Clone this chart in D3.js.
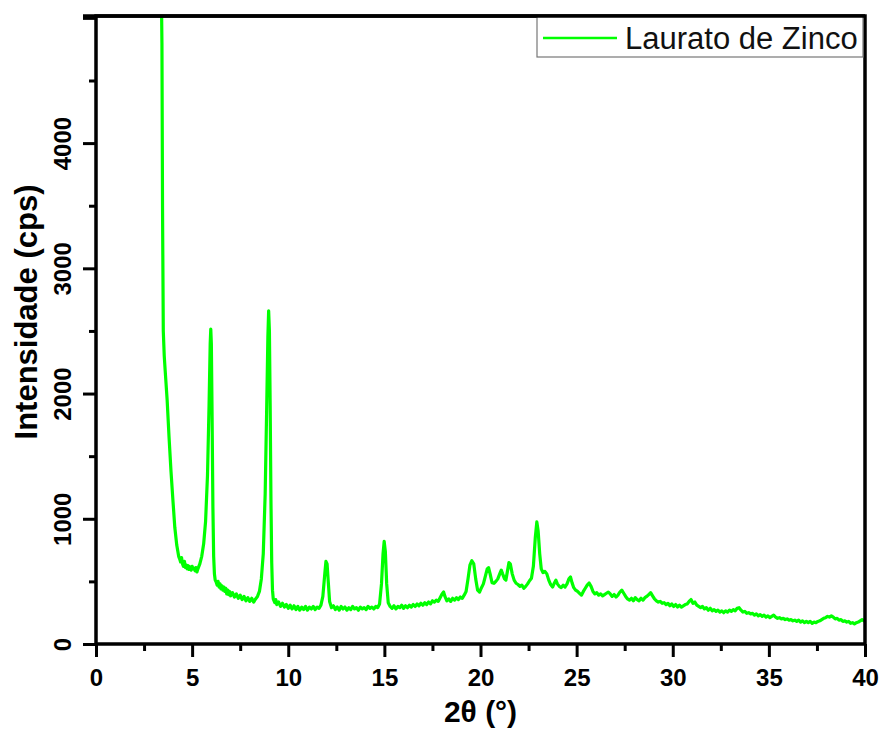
<!DOCTYPE html>
<html>
<head>
<meta charset="utf-8">
<script src="https://cdn.jsdelivr.net/npm/d3@7"></script>
<style>
  body { margin: 0; background: #fff; }
  svg { display: block; font-family: "Liberation Sans", Arial, sans-serif; }
  .tick-label { font-size: 24px; font-weight: bold; fill: #000; }
  .axis-title { font-size: 30px; font-weight: bold; fill: #000; }
  .legend-text { font-size: 31px; fill: #111; }
</style>
</head>
<body>
<svg id="chart"></svg>
<script>
// 2theta positions (deg)
const twoTheta = [
  3.40, 3.43, 3.46, 3.50, 3.55, 3.6, 3.7, 3.8, 3.9, 4.0,
  4.1, 4.2, 4.3, 4.35, 4.4, 4.45, 4.5, 4.55, 4.6, 4.65,
  4.7, 4.75, 4.8, 4.85, 4.9, 4.95, 5.0, 5.05, 5.1, 5.15,
  5.2, 5.25, 5.3, 5.35, 5.4, 5.5, 5.6, 5.7, 5.8, 5.88,
  5.94, 5.97, 6.0, 6.04, 6.08, 6.12, 6.16, 6.2, 6.25, 6.3,
  6.35, 6.4, 6.45, 6.5, 6.55, 6.6, 6.65, 6.7, 6.75, 6.8,
  6.85, 6.9, 6.95, 7.0, 7.1, 7.2, 7.3, 7.4, 7.5, 7.6,
  7.7, 7.8, 7.9, 8.0, 8.1, 8.2, 8.3, 8.4, 8.5, 8.6,
  8.7, 8.8, 8.88, 8.94, 8.98, 9.02, 9.06, 9.1, 9.14, 9.18,
  9.22, 9.3, 9.35, 9.4, 9.5, 9.6, 9.7, 9.8, 9.9, 10.0,
  10.1, 10.2, 10.3, 10.4, 10.5, 10.6, 10.7, 10.8, 10.9, 11.0,
  11.1, 11.2, 11.3, 11.4, 11.5, 11.6, 11.7, 11.8, 11.9, 11.96,
  12.02, 12.08, 12.15, 12.25, 12.35, 12.45, 12.55, 12.65, 12.75, 12.85,
  12.95, 13.05, 13.15, 13.25, 13.35, 13.45, 13.55, 13.65, 13.75, 13.85,
  13.95, 14.05, 14.15, 14.25, 14.35, 14.45, 14.55, 14.65, 14.75, 14.85,
  14.93, 14.99, 15.05, 15.12, 15.2, 15.3, 15.4, 15.5, 15.6, 15.7,
  15.8, 15.9, 16.0, 16.1, 16.2, 16.3, 16.4, 16.5, 16.6, 16.7,
  16.8, 16.9, 17.0, 17.1, 17.2, 17.3, 17.4, 17.5, 17.6, 17.7,
  17.8, 17.9, 18.0, 18.08, 18.15, 18.25, 18.35, 18.45, 18.55, 18.65,
  18.75, 18.85, 18.95, 19.05, 19.15, 19.25, 19.35, 19.45, 19.55, 19.65,
  19.75, 19.85, 19.95, 20.05, 20.15, 20.25, 20.35, 20.42, 20.5, 20.6,
  20.7, 20.8, 20.9, 21.0, 21.08, 21.15, 21.25, 21.32, 21.4, 21.48,
  21.55, 21.65, 21.75, 21.85, 21.95, 22.05, 22.15, 22.25, 22.35, 22.45,
  22.55, 22.65, 22.75, 22.85, 22.93, 23.0, 23.08, 23.16, 23.25, 23.35,
  23.45, 23.55, 23.65, 23.75, 23.85, 23.92, 24.0, 24.1, 24.2, 24.3,
  24.4, 24.5, 24.6, 24.68, 24.76, 24.85, 24.95, 25.05, 25.15, 25.25,
  25.35, 25.45, 25.55, 25.65, 25.75, 25.85, 25.95, 26.05, 26.15, 26.25,
  26.35, 26.45, 26.55, 26.65, 26.75, 26.85, 26.95, 27.05, 27.15, 27.25,
  27.35, 27.45, 27.55, 27.65, 27.75, 27.85, 27.95, 28.05, 28.15, 28.25,
  28.35, 28.45, 28.55, 28.65, 28.75, 28.85, 28.95, 29.05, 29.15, 29.25,
  29.35, 29.45, 29.55, 29.65, 29.75, 29.85, 29.95, 30.05, 30.15, 30.25,
  30.35, 30.45, 30.55, 30.65, 30.75, 30.85, 30.95, 31.05, 31.15, 31.25,
  31.35, 31.45, 31.55, 31.65, 31.75, 31.85, 31.95, 32.05, 32.15, 32.25,
  32.35, 32.45, 32.55, 32.65, 32.75, 32.85, 32.95, 33.05, 33.15, 33.25,
  33.35, 33.45, 33.55, 33.65, 33.75, 33.85, 33.95, 34.05, 34.15, 34.25,
  34.35, 34.45, 34.55, 34.65, 34.75, 34.85, 34.95, 35.05, 35.15, 35.25,
  35.35, 35.45, 35.55, 35.65, 35.75, 35.85, 35.95, 36.05, 36.15, 36.25,
  36.35, 36.45, 36.55, 36.65, 36.75, 36.85, 36.95, 37.05, 37.15, 37.25,
  37.35, 37.45, 37.55, 37.65, 37.75, 37.85, 37.95, 38.05, 38.15, 38.25,
  38.35, 38.45, 38.55, 38.65, 38.75, 38.85, 38.95, 39.05, 39.15, 39.25,
  39.35, 39.45, 39.55, 39.65, 39.75, 39.85, 39.95, 40.0
];

// intensity (cps), same order as twoTheta
const intensity = [
  5200, 4800, 3500, 2500, 2300, 2180, 1950, 1650, 1380, 1150,
  930, 790, 700, 680, 655, 690, 640, 620, 660, 610,
  630, 600, 625, 595, 615, 590, 620, 600, 605, 585,
  610, 575, 600, 620, 640, 700, 800, 980, 1350, 1900,
  2400, 2515, 2400, 1800, 1100, 700, 560, 510, 495, 470,
  500, 455, 480, 440, 465, 430, 455, 420, 445, 400,
  430, 395, 420, 385, 410, 375, 400, 365, 390, 355,
  380, 345, 370, 340, 365, 335, 360, 380, 420, 520,
  720, 1200, 1900, 2450, 2660, 2500, 1900, 1150, 650, 430,
  360, 330, 355, 315, 335, 300, 325, 295, 315, 285,
  310, 280, 305, 275, 300, 270, 295, 275, 300, 270,
  295, 280, 300, 275, 295, 285, 310, 380, 560, 660,
  640, 500, 340, 290, 305, 275, 295, 270, 300, 280,
  295, 270, 290, 275, 300, 280, 290, 270, 295, 280,
  290, 275, 300, 285, 295, 280, 300, 290, 320, 480,
  720, 820, 740, 480, 330, 300, 285, 305, 280, 300,
  290, 310, 285, 305, 290, 310, 295, 315, 300, 320,
  305, 325, 310, 330, 315, 335, 320, 345, 335, 350,
  340, 370, 400, 415, 380, 345, 360, 340, 365, 350,
  370, 355, 375, 365, 390, 420, 520, 630, 665, 640,
  520, 430, 415, 450, 480, 540, 600, 610, 560, 490,
  485, 500, 520, 560, 590, 560, 520, 510, 580, 650,
  640, 560, 510, 485, 475, 460, 470, 445, 460, 480,
  505, 525, 620, 850, 975, 900, 720, 600, 570, 580,
  560, 510, 475, 455, 490, 510, 480, 460, 450, 470,
  455, 480, 520, 535, 490, 450, 430, 420, 405, 390,
  420, 445, 470, 487, 460, 420, 400, 410, 390, 400,
  385, 395, 405, 415, 400, 380, 395, 375, 390, 415,
  430, 405, 380, 360, 350, 365, 345, 370, 355, 345,
  365, 350, 370, 380, 395, 410, 385, 360, 345, 335,
  340, 325, 330, 315, 325, 305, 320, 300, 315, 295,
  310, 295, 305, 315, 320, 340, 355, 325, 335, 310,
  300, 290, 300, 280, 290, 270, 285, 265, 275, 260,
  270, 255, 265, 250, 265, 255, 270, 260, 275, 265,
  285, 290, 270, 255, 260, 245, 250, 240, 245, 230,
  240, 225, 235, 220, 230, 215, 225, 210, 220, 230,
  215, 205, 210, 200, 205, 195, 200, 190, 195, 185,
  190, 180, 190, 175, 185, 170, 180, 170, 180, 165,
  175, 170, 180, 185, 195, 205, 210, 220, 215, 225,
  215, 200, 205, 190, 195, 180, 185, 175, 180, 165,
  170, 160, 170, 175, 185, 195, 185, 190
];

const xMajorTicks = [0, 5, 10, 15, 20, 25, 30, 35, 40];
const xMinorTicks = [2.5, 7.5, 12.5, 17.5, 22.5, 27.5, 32.5, 37.5];
const yMajorTicks = [0, 1000, 2000, 3000, 4000, 5000];
const yMinorTicks = [500, 1500, 2500, 3500, 4500];
const yLabelled = [0, 1000, 2000, 3000, 4000];
const seriesName = 'Laurato de Zinco';

class XrdChart {

  constructor(_config, _data) {
    this.config = {
      parentElement: _config.parentElement,
      containerWidth: _config.containerWidth || 884,
      containerHeight: _config.containerHeight || 731,
      margin: {top: 16, bottom: 87, left: 96, right: 19},
      lineColor: '#00ff00'
    };
    this.data = _data;
    this.initVis();
  }

  initVis() {
    let vis = this;

    vis.width = vis.config.containerWidth - vis.config.margin.left - vis.config.margin.right;
    vis.height = vis.config.containerHeight - vis.config.margin.top - vis.config.margin.bottom;

    vis.svg = d3.select(vis.config.parentElement)
      .attr('width', vis.config.containerWidth)
      .attr('height', vis.config.containerHeight);

    vis.chart = vis.svg.append('g')
      .attr('transform', `translate(${vis.config.margin.left}, ${vis.config.margin.top})`);

    // scales
    vis.xScale = d3.scaleLinear().domain([0, 40]).range([0, vis.width]);
    vis.yScale = d3.scaleLinear().domain([0, 5015]).range([vis.height, 0]);

    // clip so the steep start is cut at the frame
    vis.svg.append('defs').append('clipPath')
      .attr('id', 'plot-clip')
      .append('rect')
      .attr('width', vis.width)
      .attr('height', vis.height);

    // axes: major + minor ticks drawn separately
    vis.xAxis = d3.axisBottom(vis.xScale).tickValues(xMajorTicks).tickSize(13).tickPadding(12).tickSizeOuter(0);
    vis.xAxisMinor = d3.axisBottom(vis.xScale).tickValues(xMinorTicks).tickSize(7).tickFormat('').tickSizeOuter(0);
    vis.yAxis = d3.axisLeft(vis.yScale).tickValues(yMajorTicks).tickSize(13).tickSizeOuter(0)
      .tickFormat(d => yLabelled.includes(d) ? d : '');
    vis.yAxisMinor = d3.axisLeft(vis.yScale).tickValues(yMinorTicks).tickSize(7).tickFormat('').tickSizeOuter(0);

    vis.xGroup = vis.chart.append('g').attr('transform', `translate(0, ${vis.height})`);
    vis.xGroupMinor = vis.chart.append('g').attr('transform', `translate(0, ${vis.height})`);
    vis.yGroup = vis.chart.append('g');
    vis.yGroupMinor = vis.chart.append('g');

    // axis titles
    vis.chart.append('text')
      .attr('class', 'axis-title')
      .attr('x', vis.width / 2)
      .attr('y', vis.height + 78)
      .attr('text-anchor', 'middle')
      .text('2θ (°)');

    vis.chart.append('text')
      .attr('class', 'axis-title')
      .style('font-size', '31px')
      .attr('transform', `translate(${37 - vis.config.margin.left}, ${312 - vis.config.margin.top}) rotate(-90)`)
      .attr('text-anchor', 'middle')
      .text('Intensidade (cps)');
  }

  renderVis() {
    let vis = this;

    const line = d3.line()
      .x(d => vis.xScale(d.x))
      .y(d => vis.yScale(d.y));

    vis.chart.append('path')
      .datum(vis.data)
      .attr('clip-path', 'url(#plot-clip)')
      .attr('fill', 'none')
      .attr('stroke', vis.config.lineColor)
      .attr('stroke-width', 3.2)
      .attr('stroke-linejoin', 'round')
      .attr('d', line);

    vis.xGroup.call(vis.xAxis);
    vis.xGroupMinor.call(vis.xAxisMinor);
    vis.yGroup.call(vis.yAxis);
    vis.yGroupMinor.call(vis.yAxisMinor);

    vis.chart.selectAll('.domain').remove();
    vis.chart.selectAll('.tick line').attr('stroke', '#000').attr('stroke-width', 3);

    vis.xGroup.selectAll('text')
      .attr('class', 'tick-label')
      .attr('fill', '#000');

    // y labels read bottom to top
    vis.yGroup.selectAll('text')
      .attr('class', 'tick-label')
      .attr('fill', '#000')
      .attr('x', null)
      .attr('dy', null)
      .attr('text-anchor', 'middle')
      .attr('transform', 'translate(-25, 0) rotate(-90)');

    // frame
    vis.chart.append('rect')
      .attr('width', vis.width)
      .attr('height', vis.height)
      .attr('fill', 'none')
      .attr('stroke', '#000')
      .attr('stroke-width', 3.5);

    // legend in top right corner
    const legend = vis.chart.append('g')
      .attr('transform', `translate(${vis.width - 328}, 0)`);

    legend.append('rect')
      .attr('width', 326)
      .attr('height', 41)
      .attr('fill', '#fff')
      .attr('stroke', '#777')
      .attr('stroke-width', 1.2);

    legend.append('line')
      .attr('x1', 6).attr('x2', 80)
      .attr('y1', 22).attr('y2', 22)
      .attr('stroke', vis.config.lineColor)
      .attr('stroke-width', 2.6);

    legend.append('text')
      .attr('class', 'legend-text')
      .attr('x', 88)
      .attr('y', 33)
      .text(seriesName);

    // redraw top edge over the legend box
    vis.chart.append('line')
      .attr('x1', -13).attr('x2', vis.width)
      .attr('y1', 0).attr('y2', 0)
      .attr('stroke', '#000')
      .attr('stroke-width', 3.5);
  }
}

const points = twoTheta.map((t, i) => ({x: t, y: intensity[i]}));
const chart = new XrdChart({parentElement: '#chart'}, points);
chart.renderVis();
</script>
</body>
</html>
